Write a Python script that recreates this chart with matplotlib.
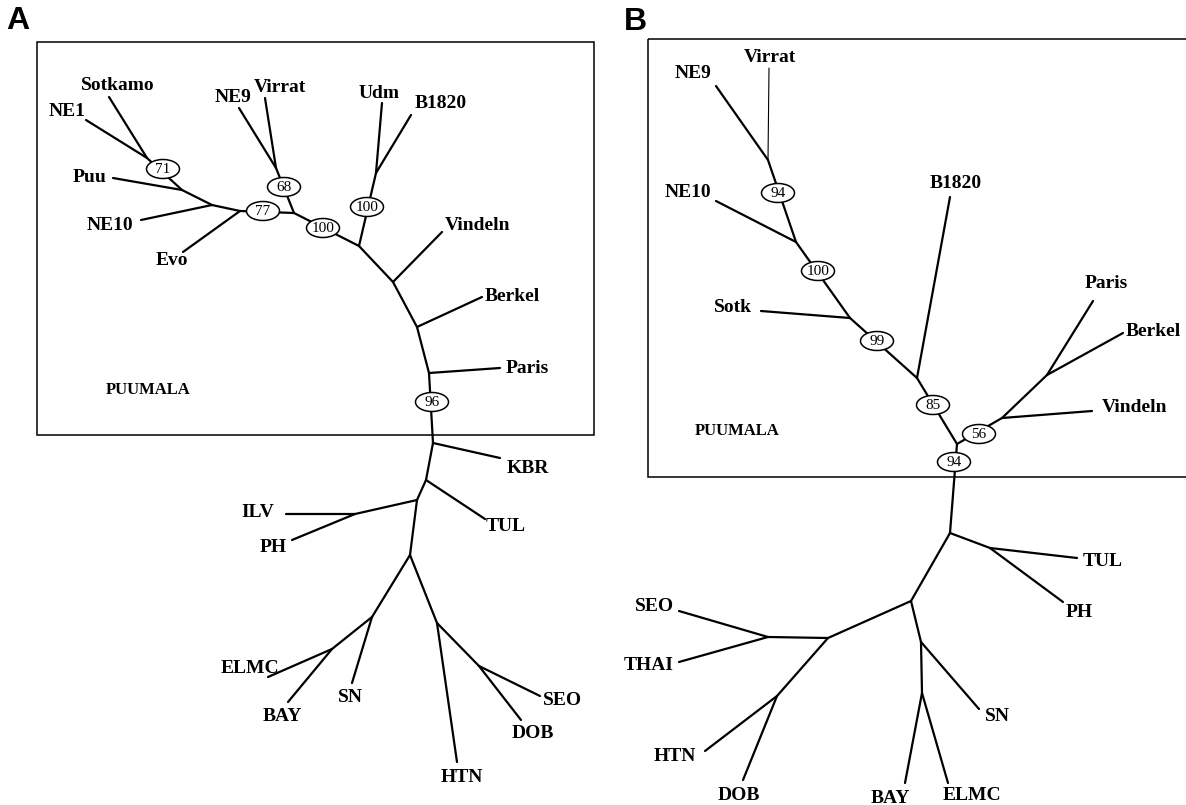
import matplotlib
matplotlib.use("Agg")
import matplotlib.pyplot as plt
from matplotlib.patches import Ellipse, Rectangle

# ---- panel A : node positions (picture px, y down) ----
a_nodes = {
    "a71f": (147, 158), "Sotkamo": (109, 97), "NE1": (86, 120),
    "aPuu": (182, 190), "Puu": (113, 178),
    "aNE10": (212, 205), "NE10": (141, 220),
    "aEvo": (240, 211), "Evo": (183, 252),
    "a68j": (294, 213), "a68f": (276, 168), "NE9": (239, 108), "Virrat": (265, 98),
    "aUdmj": (359, 246), "aUdmf": (376, 173), "Udm": (382, 103), "B1820": (411, 115),
    "aVin": (393, 282), "Vindeln": (442, 232),
    "aBer": (417, 327), "Berkel": (482, 297),
    "aPar": (429, 373), "Paris": (500, 368),
    "aKBR": (433, 443), "KBR": (500, 458),
    "aTUL": (426, 480), "TUL": (485, 519),
    "aILV": (417, 500), "aILVf": (355, 514), "ILV": (286, 514), "PH": (292, 540),
    "aLow": (410, 555),
    "aSN": (372, 617), "SN": (352, 683),
    "aEB": (332, 649), "ELMC": (268, 677), "BAY": (288, 702),
    "aHTN": (437, 623), "HTN": (457, 762),
    "aSD": (479, 666), "SEO": (540, 696), "DOB": (521, 720),
}
a_edges = [
    ("a71f", "Sotkamo"), ("a71f", "NE1"), ("a71f", "aPuu"), ("aPuu", "Puu"),
    ("aPuu", "aNE10"), ("aNE10", "NE10"), ("aNE10", "aEvo"), ("aEvo", "Evo"),
    ("aEvo", "a68j"), ("a68j", "a68f"), ("a68f", "NE9"), ("a68f", "Virrat"),
    ("a68j", "aUdmj"), ("aUdmj", "aUdmf"), ("aUdmf", "Udm"), ("aUdmf", "B1820"),
    ("aUdmj", "aVin"), ("aVin", "Vindeln"), ("aVin", "aBer"), ("aBer", "Berkel"),
    ("aBer", "aPar"), ("aPar", "Paris"), ("aPar", "aKBR"), ("aKBR", "KBR"),
    ("aKBR", "aTUL"), ("aTUL", "TUL"), ("aTUL", "aILV"), ("aILV", "aILVf"),
    ("aILVf", "ILV"), ("aILVf", "PH"), ("aILV", "aLow"),
    ("aLow", "aSN"), ("aSN", "SN"), ("aSN", "aEB"), ("aEB", "ELMC"), ("aEB", "BAY"),
    ("aLow", "aHTN"), ("aHTN", "HTN"), ("aHTN", "aSD"), ("aSD", "SEO"), ("aSD", "DOB"),
]
a_labels = ["Sotkamo", "NE1", "Puu", "NE10", "Evo", "NE9", "Virrat", "Udm", "B1820",
            "Vindeln", "Berkel", "Paris", "KBR", "TUL", "ILV", "PH", "ELMC", "BAY",
            "SN", "HTN", "SEO", "DOB"]
a_label_x = [118, 67, 90, 110, 172, 233, 280, 379, 441, 478, 512, 527, 528, 506,
             258, 273, 250, 282, 350, 462, 563, 533]
a_label_y = [85, 112, 177, 225, 260, 98, 87, 93, 103, 225, 296, 368, 468, 526,
             512, 547, 668, 716, 697, 777, 700, 733]
a_boot = ["71", "77", "68", "100", "100", "96"]
a_boot_x = [163, 263, 284, 323, 367, 432]
a_boot_y = [169, 211, 187, 228, 207, 402]

# ---- panel B ----
b_nodes = {
    "bVf": (768, 160), "Virrat": (769, 68), "NE9": (716, 86),
    "bNE10": (796, 242), "NE10": (716, 201),
    "bSotk": (850, 318), "Sotk": (761, 311),
    "bB18": (917, 378), "B1820": (950, 197),
    "bJ": (957, 444),
    "bVin": (1002, 418), "Vindeln": (1092, 411),
    "bPB": (1047, 375), "Paris": (1093, 301), "Berkel": (1123, 333),
    "bTP": (950, 533), "bTPf": (990, 548), "TUL": (1077, 558), "PH": (1063, 602),
    "bMid": (911, 601),
    "bLeft": (828, 638), "bST": (768, 637), "SEO": (679, 611), "THAI": (679, 662),
    "bHD": (777, 696), "HTN": (705, 751), "DOB": (743, 780),
    "bSN": (921, 642), "SN": (979, 709),
    "bBE": (922, 693), "BAY": (905, 783), "ELMC": (948, 783),
}
b_edges = [
    ("bVf", "NE9"), ("bVf", "bNE10"), ("bNE10", "NE10"), ("bNE10", "bSotk"),
    ("bSotk", "Sotk"), ("bSotk", "bB18"), ("bB18", "B1820"), ("bB18", "bJ"),
    ("bJ", "bVin"), ("bVin", "Vindeln"), ("bVin", "bPB"), ("bPB", "Paris"),
    ("bPB", "Berkel"), ("bJ", "bTP"), ("bTP", "bTPf"), ("bTPf", "TUL"),
    ("bTPf", "PH"), ("bTP", "bMid"), ("bMid", "bLeft"), ("bLeft", "bST"),
    ("bST", "SEO"), ("bST", "THAI"), ("bLeft", "bHD"), ("bHD", "HTN"),
    ("bHD", "DOB"), ("bMid", "bSN"), ("bSN", "SN"), ("bSN", "bBE"),
    ("bBE", "BAY"), ("bBE", "ELMC"),
]
b_thin = [("bVf", "Virrat")]
b_labels = ["Virrat", "NE9", "NE10", "Sotk", "B1820", "Paris", "Berkel", "Vindeln",
            "TUL", "PH", "SEO", "THAI", "HTN", "DOB", "SN", "BAY", "ELMC"]
b_label_x = [770, 693, 688, 733, 956, 1106, 1153, 1135, 1103, 1079, 654, 649,
             675, 739, 997, 890, 972]
b_label_y = [57, 73, 192, 307, 183, 283, 331, 407, 561, 612, 606, 665, 756,
             795, 716, 798, 795]
b_boot = ["94", "100", "99", "85", "56", "94"]
b_boot_x = [778, 818, 877, 933, 979, 954]
b_boot_y = [193, 271, 341, 405, 434, 462]

# boxes: x0, y0, x1, y1 ; clade name position
box_a = (37, 42, 594, 435)
box_b = (648, 39, 1192, 477)
clade_x = [148, 737]
clade_y = [390, 431]
panel_letters = ["A", "B"]
panel_x = [18, 635]
panel_y = [21, 22]

fig = plt.figure(figsize=(11.86, 8.05), dpi=100)
ax = fig.add_axes([0, 0, 1, 1])
ax.set_xlim(0, 1186)
ax.set_ylim(805, 0)
ax.axis("off")

serif = "Liberation Serif"


def draw_tree(nodes, edges, lw=1.6):
    for u, v in edges:
        (x0, y0), (x1, y1) = nodes[u], nodes[v]
        ax.plot([x0, x1], [y0, y1], color="black", lw=lw,
                solid_capstyle="round", zorder=2)


for bx in (box_a, box_b):
    ax.add_patch(Rectangle((bx[0], bx[1]), bx[2] - bx[0], bx[3] - bx[1],
                           fill=False, ec="black", lw=1.1, zorder=1))

draw_tree(a_nodes, a_edges)
draw_tree(b_nodes, b_edges)
draw_tree(b_nodes, b_thin, lw=0.8)

for labs, lx, ly in ((a_labels, a_label_x, a_label_y), (b_labels, b_label_x, b_label_y)):
    for t, x, y in zip(labs, lx, ly):
        ax.text(x, y, t, ha="center", va="center", fontsize=14,
                fontweight="bold", family=serif)

for bt, bxs, bys in ((a_boot, a_boot_x, a_boot_y), (b_boot, b_boot_x, b_boot_y)):
    for t, x, y in zip(bt, bxs, bys):
        ax.add_patch(Ellipse((x, y), 33, 19, fc="white", ec="black", lw=1.1, zorder=3))
        ax.text(x, y + 0.5, t, ha="center", va="center", fontsize=11,
                family=serif, zorder=4)

for x, y in zip(clade_x, clade_y):
    ax.text(x, y, "PUUMALA", ha="center", va="center", fontsize=12,
            fontweight="bold", family=serif)

for t, x, y in zip(panel_letters, panel_x, panel_y):
    ax.text(x, y, t, ha="center", va="center", fontsize=23,
            fontweight="bold", family="Liberation Sans")

fig.savefig("out.png", dpi=100)
